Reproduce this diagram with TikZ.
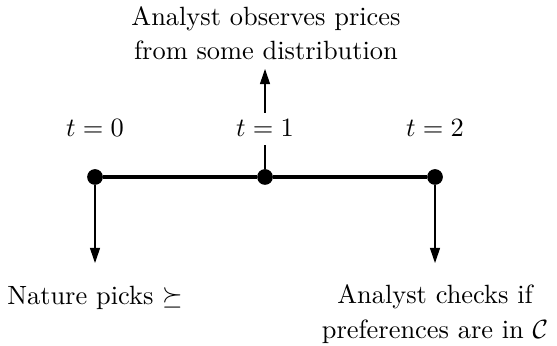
\documentclass[tikz,border=0pt]{standalone}
\usetikzlibrary{arrows.meta}
\begin{document}
\begin{tikzpicture}[x=0.3788pt,y=-0.3788pt,
  dotnode/.style={circle,fill=black,inner sep=0pt,minimum size=5.95pt},
  lbl/.style={inner sep=0pt,align=center},
  arr/.style={-{Triangle[length=5.7pt,width=3.8pt]},line width=0.4pt}]
\useasboundingbox (0,0) rectangle (557,346);
\node[dotnode] (d0) at (95,177) {};
\node[dotnode] (d1) at (265,177) {};
\node[dotnode] (d2) at (435,177) {};
\draw[line width=1.3pt] (d0) -- (d1) -- (d2);
\node[lbl] (t0) at (95,128) {$t=0$};
\node[lbl] (t1) at (265,128) {$t=1$};
\node[lbl] (t2) at (435,128) {$t=2$};
\node[lbl] (top) at (266,33) {Analyst observes prices\\[1pt] from some distribution};
\coordinate (c1) at (265,145);
\coordinate (c2) at (265,113);
\coordinate (c3) at (265,69);
\draw[line width=0.4pt] (d1) -- (c1);
\draw[arr] (c2) -- (c3);
\coordinate (e0) at (95,263);
\coordinate (e2) at (435,263);
\draw[arr] (d0) -- (e0);
\draw[arr] (d2) -- (e2);
\node[lbl] (n0) at (95,298) {Nature picks $\succeq$};
\node[lbl] (n2) at (435,314) {Analyst checks if\\[1pt] preferences are in $\mathcal{C}$};
\end{tikzpicture}
\end{document}
